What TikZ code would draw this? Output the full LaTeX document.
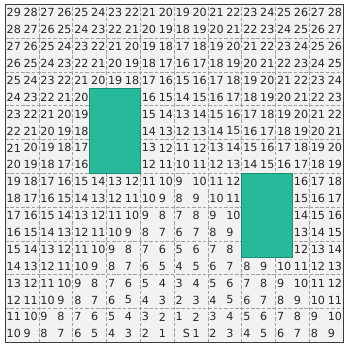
\documentclass[tikz,border=0pt]{standalone}
\usepackage{fontspec}
\setmainfont{DejaVu Sans}
\usepackage{tikz}
\definecolor{obstgreen}{RGB}{38,186,154}
\definecolor{cellgray}{RGB}{242,242,242}
\definecolor{framegray}{RGB}{60,60,60}

\begin{document}
\begin{tikzpicture}[
  x=0.5cm,y=0.5cm,
  cellnum/.style={anchor=west,inner sep=0pt,font=\fontsize{9.4}{11}\selectfont\color{black!85}},
  startnum/.style={anchor=east,inner sep=0pt,font=\fontsize{9.4}{11}\selectfont\color{black!85}},
  obstacle/.style={fill=obstgreen,draw=obstgreen!75!black,line width=0.4pt},
  gridline/.style={gray!75,dash pattern=on 3pt off 1.5pt,line width=0.4pt}
]
  \useasboundingbox[fill=white] (-0.3,-0.46) rectangle (20.12,20.25);
  \fill[cellgray] (0,0) rectangle (20,20);
  \draw[gridline] (0,0) grid (20,20);
  % distance to the start cell S
  \foreach \c in {0,...,19}{
    \foreach \r in {0,...,19}{
      \pgfmathtruncatemacro{\d}{abs(\c-10)+\r}
      \ifnum\d=0
        \node[startnum] (n-\c-\r) at (\c+0.95,\r+0.5) {S};
      \else
        \node[cellnum] (n-\c-\r) at (\c+0.08,\r+0.5) {\d};
      \fi
    }
  }
  % obstacles
  \draw[obstacle] (5,10) rectangle (8,15);
  \draw[obstacle] (14,5) rectangle (17,10);
  \draw[framegray,line width=0.7pt] (0,0) rectangle (20,20);
\end{tikzpicture}
\end{document}
